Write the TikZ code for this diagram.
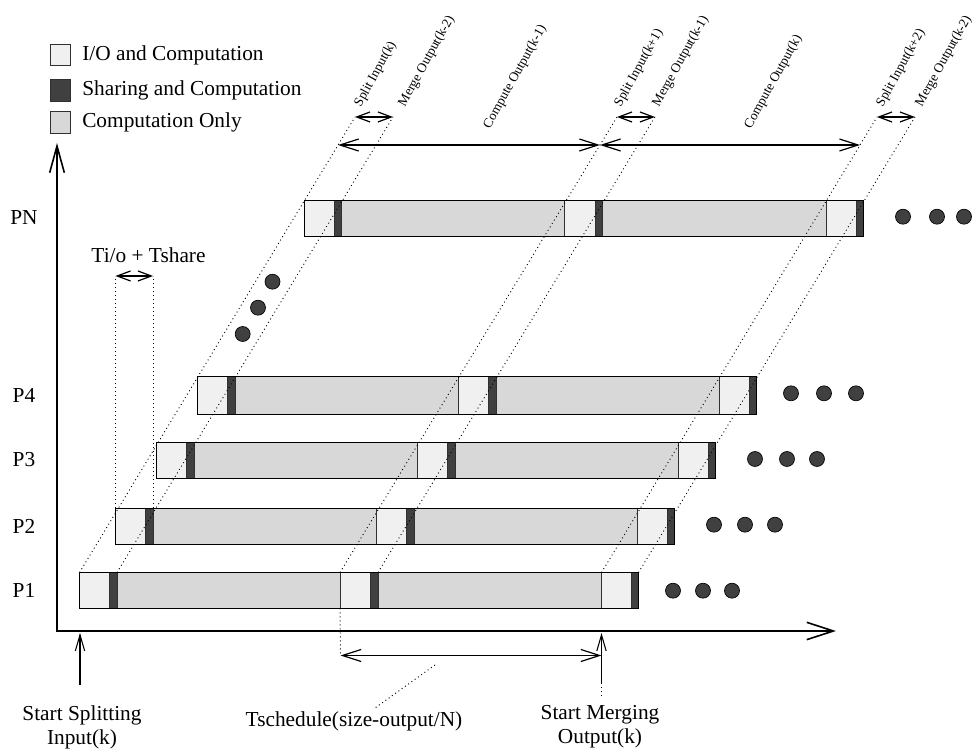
\documentclass[tikz,border=0pt]{standalone}
\usepackage{fontspec}
\setmainfont{Liberation Serif}
\usetikzlibrary{arrows.meta,calc}

\definecolor{iofill}{HTML}{F0F0F0}
\definecolor{sharefill}{HTML}{404040}
\definecolor{compfill}{HTML}{D8D8D8}
\definecolor{segedge}{HTML}{303030}

% One processor time line: name, left x, top y, height.
% Segments: I/O | sharing | computation | I/O | sharing | computation | I/O | sharing
\newcommand\procbar[4]{%
  \foreach \a/\b/\c in {0/30/iofill,30/37.5/sharefill,37.5/260.5/compfill,
                        260.5/291/iofill,291/298.5/sharefill,298.5/522/compfill,
                        522/552/iofill,552/559/sharefill}{%
    \filldraw[fill=\c,draw=segedge,line width=0.6pt] (#2+\a,#3) rectangle (#2+\b,#3+#4);
  }%
  \draw[line width=0.7pt] (#2,#3) rectangle (#2+559,#3+#4);
  \coordinate (#1-a)  at (#2,#3);
  \coordinate (#1-b)  at (#2+37.5,#3);
  \coordinate (#1-c)  at (#2+260.5,#3);
  \coordinate (#1-cb) at (#2+260.5,#3+#4);
  \coordinate (#1-d)  at (#2+298.5,#3);
  \coordinate (#1-e)  at (#2+522,#3);
  \coordinate (#1-eb) at (#2+522,#3+#4);
  \coordinate (#1-f)  at (#2+559,#3);
}

\begin{document}
\begin{tikzpicture}[x=0.75pt,y=-0.75pt,
  every node/.style={font=\fontsize{16}{18}\selectfont, inner sep=0pt},
  tag/.style={font=\fontsize{10}{11}\selectfont, rotate=61, anchor=west},
  guide/.style={line width=0.7pt, dash pattern=on 0.7pt off 2.3pt},
  axis/.style={line width=1.5pt,
    {Straight Barb[length=20pt,width=11pt,line width=1.2pt]}-{Straight Barb[length=20pt,width=13pt,line width=1.2pt]}},
  bigspan/.style={line width=0.9pt,
    {Straight Barb[length=14pt,width=9pt]}-{Straight Barb[length=14pt,width=9pt]}},
  smallspan/.style={line width=0.9pt,
    {Straight Barb[length=10pt,width=7.5pt]}-{Straight Barb[length=10pt,width=7.5pt]}},
  pointer/.style={line width=0.8pt, -{Straight Barb[length=12pt,width=7pt]}},
  dot/.style={fill=sharefill, draw=black, line width=0.5pt},
  key/.style={draw=segedge, line width=0.7pt},
]
\useasboundingbox (0,0) rectangle (976,755);

% ---- legend
\filldraw[key, fill=iofill]    (50,44)  rectangle (70,65);
\filldraw[key, fill=sharefill] (50,79)  rectangle (70,101);
\filldraw[key, fill=compfill]  (50,111) rectangle (70,133);
\node[anchor=west] (lgio)    at (82,55)  {I/O and Computation};
\node[anchor=west] (lgshare) at (82,90)  {Sharing and Computation};
\node[anchor=west] (lgcomp)  at (82,122) {Computation Only};

% ---- processor time lines
\procbar{p1}{79.5}{572.5}{36}
\procbar{p2}{115.5}{508}{36}
\procbar{p3}{156.5}{442}{36}
\procbar{p4}{197.5}{376.5}{38}
\procbar{pn}{304}{200}{36}

\node (lp1) at (24,590.5) {P1};
\node (lp2) at (24,526)   {P2};
\node (lp3) at (24,460)   {P3};
\node (lp4) at (24,395)   {P4};
\node (lpn) at (24,218)   {PN};

% ---- continuation dots
\foreach \x/\y in {673/590.7,703/590.7,732/590.7,
                   714/524.7,745/524.7,775/524.7,
                   755/459,787/459,817/459,
                   791/393.3,824/393.3,856/393.3,
                   903/216.7,937/216.7,964/216.7,
                   272.5/281.7,258/307.7,242.7/334}{
  \filldraw[dot] (\x,\y) circle (7.5);
}

% ---- slanted guide lines (phase boundaries over all processors)
\coordinate (k-s1) at (355,117);
\coordinate (k-s2) at (393,117);
\coordinate (m-s1) at (617,117);
\coordinate (m-s2) at (655,117);
\coordinate (r-s1) at (877,117);
\coordinate (r-s2) at (915,117);
\draw[guide] (p1-a) -- (k-s1);
\draw[guide] (p1-b) -- (k-s2);
\draw[guide] (p1-c) -- (m-s1);
\draw[guide] (p1-d) -- (m-s2);
\draw[guide] (p1-e) -- (r-s1);
\draw[guide] (p1-f) -- (r-s2);

% ---- I/O + sharing interval
\coordinate (ts1) at (115.5,276);
\coordinate (ts2) at (153,276);
\draw[guide] (p2-a) -- (ts1);
\draw[guide] ($(p2-a)+(37.5,0)$) -- (ts2);
\draw[smallspan] (ts1) -- (ts2);
\node (tiolab) at (148.5,255) {Ti/o + Tshare};

% ---- top intervals
\draw[smallspan] (k-s1) -- (k-s2);
\draw[smallspan] (m-s1) -- (m-s2);
\draw[smallspan] (r-s1) -- (r-s2);
\coordinate (ck) at ($(p1-a)!0.9385!(k-s1)$);
\coordinate (cm) at ($(p1-c)!0.9385!(m-s1)$);
\coordinate (cr) at ($(p1-e)!0.9385!(r-s1)$);
\draw[bigspan] (ck) -- (cm);
\draw[bigspan] (cm) -- (cr);

\node[tag] (t1) at (358,106) {Split Input(k)};
\node[tag] (t2) at (402,106) {Merge Output(k-2)};
\node[tag] (t3) at (487,128) {Compute Output(k-1)};
\node[tag] (t4) at (618,106) {Split Input(k+1)};
\node[tag] (t5) at (656,106) {Merge Output(k-1)};
\node[tag] (t6) at (748,128) {Compute Output(k)};
\node[tag] (t7) at (880,106) {Split Input(k+2)};
\node[tag] (t8) at (919,106) {Merge Output(k-2)};

% ---- axes
\coordinate (ytip) at (57,143);
\coordinate (origin) at (57,631);
\coordinate (xtip) at (836,631);
\draw[axis] (ytip) -- (origin) -- (xtip);

% ---- schedule interval below the axis
\coordinate (sch1) at (340.5,655.5);
\coordinate (sch2) at (601.5,655.5);
\draw[guide] (p1-cb) -- (sch1);
\draw[bigspan] (sch1) -- (sch2);
\coordinate (lead1) at (435,665);
\coordinate (lead2) at (375,708);
\draw[guide] (lead1) -- (lead2);
\node (schlab) at (354,721) {Tschedule(size-output/N)};

% ---- start markers
\coordinate (ssplit) at (80,685);
\coordinate (ssplit-tip) at (80,633);
\draw[pointer] (ssplit) -- (ssplit-tip);
\node[align=center] (ssplitlab) at (82,727) {Start Splitting\\Input(k)};

\coordinate (smerge) at (601.5,683);
\coordinate (smerge-tip) at (601.5,633);
\coordinate (smerge-end) at (601.5,698);
\draw[guide] (smerge) -- (smerge-end);
\draw[pointer] (smerge) -- (smerge-tip);
\node[align=center] (smergelab) at (600,727) {Start Merging\\Output(k)};
\end{tikzpicture}
\end{document}
